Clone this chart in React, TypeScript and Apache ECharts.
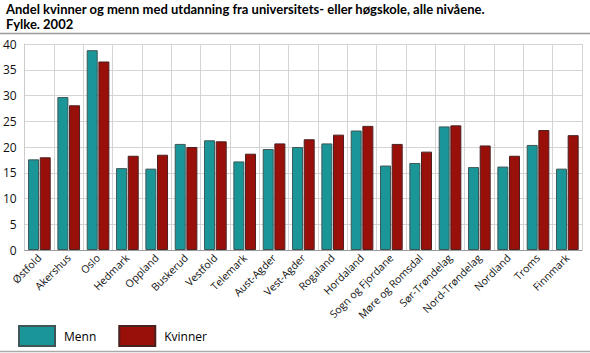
import React, { useEffect, useRef } from "react";
import * as echarts from "echarts";

const categories = [
  "Østfold", "Akershus", "Oslo", "Hedmark", "Oppland", "Buskerud", "Vestfold",
  "Telemark", "Aust-Agder", "Vest-Agder", "Rogaland", "Hordaland",
  "Sogn og Fjordane", "Møre og Romsdal", "Sør-Trøndelag", "Nord-Trøndelag",
  "Nordland", "Troms", "Finnmark",
];
const menn = [17.6, 29.7, 38.8, 15.9, 15.8, 20.6, 21.3, 17.2, 19.6, 20.0, 20.7, 23.2, 16.4, 16.9, 24.0, 16.1, 16.2, 20.4, 15.8];
const kvinner = [18.0, 28.1, 36.6, 18.3, 18.5, 20.0, 21.1, 18.7, 20.7, 21.5, 22.4, 24.1, 20.6, 19.1, 24.2, 20.3, 18.3, 23.3, 22.3];
const seriesNames = ["Menn", "Kvinner"];
const titleText = "Andel kvinner og menn med utdanning fra universitets- eller høgskole, alle nivåene.\nFylke. 2002";

const FONT = "'Open Sans', 'Noto Sans', sans-serif";
const TITLE_FONT = "Lato, 'Open Sans', sans-serif";

export default function App() {
  const ref = useRef<HTMLDivElement>(null);
  useEffect(() => {
    if (!ref.current) return;
    const chart = echarts.init(ref.current, undefined, { renderer: "svg" });
    chart.setOption({
      animation: false,
      textStyle: { fontFamily: FONT },
      title: {
        text: titleText,
        left: 6,
        top: 1,
        padding: 0,
        textStyle: { fontSize: 13, fontWeight: "bold", color: "#000", lineHeight: 15, fontFamily: TITLE_FONT },
      },
      graphic: [
        { type: "line", shape: { x1: 0, y1: 33.5, x2: 590, y2: 33.5 }, style: { stroke: "#999", lineWidth: 1.5 } },
        { type: "line", shape: { x1: 0, y1: 351.5, x2: 590, y2: 351.5 }, style: { stroke: "#aaa", lineWidth: 1.5 } },
      ],
      legend: {
        left: 13,
        top: 320,
        itemWidth: 36,
        itemHeight: 20,
        itemGap: 22,
        icon: "rect",
        data: seriesNames,
        textStyle: { fontSize: 12, color: "#000", padding: [0, 0, 0, 4], fontFamily: FONT },
      },
      grid: { left: 23, right: 8, top: 44, bottom: 103, containLabel: false },
      xAxis: {
        type: "category",
        data: categories,
        axisLine: { show: true, lineStyle: { color: "#999" } },
        axisTick: { show: false },
        splitLine: { show: true, lineStyle: { color: "#d4d4d4", width: 1 } },
        axisLabel: { rotate: 45, fontSize: 10.5, color: "#111", margin: 6, interval: 0, fontFamily: FONT },
      },
      yAxis: {
        type: "value",
        min: 0,
        max: 40,
        interval: 5,
        axisLine: { show: true, lineStyle: { color: "#ccc" } },
        axisTick: { show: false },
        splitLine: { show: true, lineStyle: { color: "#d4d4d4", width: 1 } },
        axisLabel: { fontSize: 12, color: "#111", margin: 8, fontFamily: FONT },
      },
      series: [
        {
          name: seriesNames[0],
          type: "bar",
          data: menn,
          barWidth: 11,
          barGap: "6%",
          itemStyle: { color: "#1a9699", borderColor: "#3f5656", borderWidth: 1 },
        },
        {
          name: seriesNames[1],
          type: "bar",
          data: kvinner,
          barWidth: 11,
          itemStyle: { color: "#990f0a", borderColor: "#4a2020", borderWidth: 1 },
        },
      ],
    });
    return () => chart.dispose();
  }, []);
  return <div ref={ref} style={{ width: 590, height: 353, position: "absolute", left: 0, top: 0 }} />;
}
